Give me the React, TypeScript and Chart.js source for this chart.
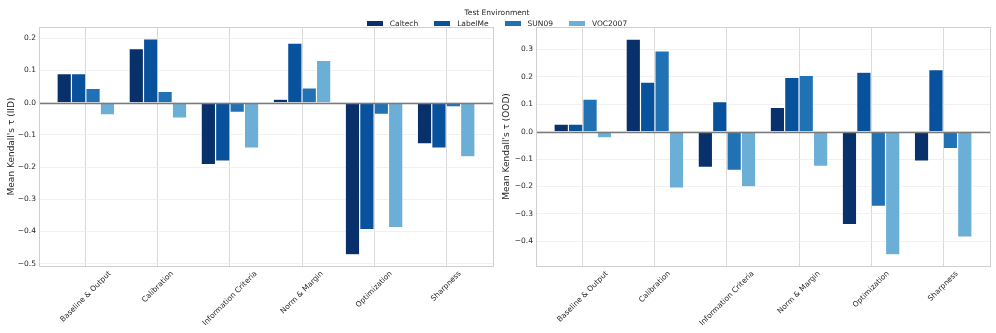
import React, { useEffect, useRef } from "react";
import { Chart, registerables } from "chart.js";

Chart.register(...registerables);

const categories = [
  "Baseline & Output",
  "Calibration",
  "Information Criteria",
  "Norm & Margin",
  "Optimization",
  "Sharpness",
];
const environments = ["Caltech", "LabelMe", "SUN09", "VOC2007"];
const envColors = ["#08306b", "#08519c", "#2171b5", "#6baed6"];

// IID panel
const iidCaltech = [0.09, 0.168, -0.192, 0.011, -0.472, -0.128];
const iidLabelMe = [0.09, 0.198, -0.181, 0.185, -0.394, -0.141];
const iidSUN09 = [0.044, 0.035, -0.03, 0.046, -0.036, -0.013];
const iidVOC2007 = [-0.038, -0.048, -0.141, 0.131, -0.388, -0.168];

// OOD panel
const oodCaltech = [0.028, 0.338, -0.13, 0.089, -0.339, -0.107];
const oodLabelMe = [0.028, 0.181, 0.11, 0.198, 0.217, 0.226];
const oodSUN09 = [0.119, 0.295, -0.141, 0.205, -0.272, -0.062];
const oodVOC2007 = [-0.022, -0.206, -0.201, -0.126, -0.449, -0.385];

const FONT = '"DejaVu Sans", "Liberation Sans", sans-serif';
const TEXT = "#262626";

const decorPlugin = {
  id: "decor",
  afterDatasetsDraw(chart: any) {
    const { ctx, chartArea, scales } = chart;
    const y0 = Math.round(scales.y.getPixelForValue(0)) + 0.5;
    ctx.save();
    ctx.strokeStyle = "#7a7a7a";
    ctx.lineWidth = 1.4;
    ctx.beginPath();
    ctx.moveTo(chartArea.left, y0);
    ctx.lineTo(chartArea.right, y0);
    ctx.stroke();
    ctx.restore();
  },
  afterDraw(chart: any) {
    const { ctx, chartArea, scales } = chart;
    ctx.save();
    ctx.strokeStyle = "#cfcfcf";
    ctx.lineWidth = 1;
    ctx.strokeRect(
      Math.round(chartArea.left) + 0.5,
      Math.round(chartArea.top) + 0.5,
      Math.round(chartArea.right - chartArea.left),
      Math.round(chartArea.bottom - chartArea.top)
    );
    ctx.font = `7.5px ${FONT}`;
    ctx.fillStyle = TEXT;
    ctx.textAlign = "center";
    ctx.textBaseline = "middle";
    categories.forEach((lab, i) => {
      const px = scales.x.getPixelForValue(i);
      const w = ctx.measureText(lab).width;
      const h = 8.5;
      const half = ((w + h) * Math.SQRT1_2) / 2;
      ctx.save();
      ctx.translate(px, chartArea.bottom + 3.5 + half);
      ctx.rotate(-Math.PI / 4);
      ctx.fillText(lab, 0, 0);
      ctx.restore();
    });
    ctx.restore();
  },
};

function makeConfig(
  series: number[][],
  yTitle: string,
  yMin: number,
  yMax: number,
  yWidth: number,
  titlePad: number,
  padRight: number
): any {
  return {
    type: "bar",
    data: {
      datasets: environments.map((name, k) => ({
        label: name,
        data: series[k].map((v, i) => ({ x: i, y: v })),
        backgroundColor: envColors[k],
        borderColor: "rgba(255,255,255,0.85)",
        borderWidth: 0.6,
        categoryPercentage: 0.8,
        barPercentage: 1.0,
      })),
    },
    options: {
      responsive: false,
      animation: false,
      devicePixelRatio: 1,
      events: [],
      layout: { padding: { left: 0, top: 27, right: padRight, bottom: 0 } },
      plugins: { legend: { display: false }, tooltip: { enabled: false } },
      scales: {
        x: {
          type: "linear",
          min: -0.65,
          max: 5.65,
          offset: false,
          ticks: { stepSize: 1, includeBounds: false, display: false },
          grid: { offset: false, color: "#dadada", lineWidth: 1, drawTicks: false },
          border: { display: false },
          afterFit: (s: any) => {
            s.height = 67;
          },
        },
        y: {
          type: "linear",
          min: yMin,
          max: yMax,
          ticks: {
            stepSize: 0.1,
            includeBounds: false,
            padding: 3,
            color: TEXT,
            font: { family: FONT, size: 7.5 },
            callback: (v: any) => {
              const n = Number(v);
              const s = Math.abs(n) < 1e-9 ? "0.0" : n.toFixed(1);
              return s.replace("-", "\u2212");
            },
          },
          grid: { color: "#eeeeee", lineWidth: 0.8, drawTicks: false },
          border: { display: false },
          title: {
            display: true,
            text: yTitle,
            color: TEXT,
            font: { family: FONT, size: 9 },
            padding: { top: titlePad, bottom: 0 },
          },
          afterFit: (s: any) => {
            s.width = yWidth;
          },
        },
      },
    },
    plugins: [decorPlugin],
  };
}

export default function App() {
  const leftRef = useRef<HTMLCanvasElement>(null);
  const rightRef = useRef<HTMLCanvasElement>(null);

  useEffect(() => {
    const left = new Chart(
      leftRef.current as HTMLCanvasElement,
      makeConfig(
        [iidCaltech, iidLabelMe, iidSUN09, iidVOC2007],
        "Mean Kendall's \u03C4 (IID)",
        -0.507,
        0.235,
        39,
        6,
        5
      )
    );
    const right = new Chart(
      rightRef.current as HTMLCanvasElement,
      makeConfig(
        [oodCaltech, oodLabelMe, oodSUN09, oodVOC2007],
        "Mean Kendall's \u03C4 (OOD)",
        -0.49,
        0.382,
        38,
        3,
        6
      )
    );
    return () => {
      left.destroy();
      right.destroy();
    };
  }, []);

  return (
    <div
      style={{
        position: "absolute",
        left: 0,
        top: 0,
        width: 996,
        height: 333,
        background: "#ffffff",
        overflow: "hidden",
        fontFamily: FONT,
      }}
    >
      <canvas
        ref={leftRef}
        width={498}
        height={333}
        style={{ position: "absolute", left: 0, top: 0, width: 498, height: 333 }}
      />
      <canvas
        ref={rightRef}
        width={498}
        height={333}
        style={{ position: "absolute", left: 498, top: 0, width: 498, height: 333 }}
      />
      <div
        style={{
          position: "absolute",
          left: 0,
          top: 7.5,
          width: 994,
          textAlign: "center",
          fontSize: 7.5,
          lineHeight: "9px",
          color: TEXT,
        }}
      >
        Test Environment
      </div>
      <div
        style={{
          position: "absolute",
          left: 0,
          top: 18.5,
          width: 994,
          display: "flex",
          justifyContent: "center",
          alignItems: "center",
          fontSize: 7.5,
          lineHeight: "9px",
          color: TEXT,
        }}
      >
        {environments.map((name, k) => (
          <div
            key={name}
            style={{
              display: "flex",
              alignItems: "center",
              marginRight: k < environments.length - 1 ? 16 : 0,
            }}
          >
            <span
              style={{
                display: "inline-block",
                width: 16,
                height: 5,
                background: envColors[k],
                marginRight: 7,
              }}
            />
            <span>{name}</span>
          </div>
        ))}
      </div>
    </div>
  );
}
